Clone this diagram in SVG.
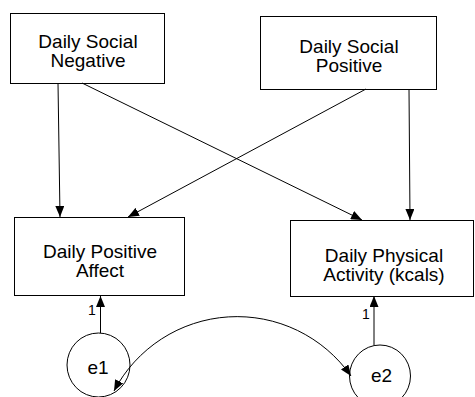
<svg xmlns="http://www.w3.org/2000/svg" width="475" height="397" viewBox="0 0 475 397">
  <style>
    .box { fill: #fff; stroke: #000; stroke-width: 1; }
    .circ { fill: none; stroke: #000; stroke-width: 1; }
    .lbl { font-family: "Liberation Sans", Arial, sans-serif; font-size: 19px; fill: #000; text-anchor: middle; }
    .one { font-family: "Liberation Sans", Arial, sans-serif; font-size: 14px; fill: #000; text-anchor: middle; }
    .edge { fill: none; stroke: #000; stroke-width: 1; marker-end: url(#ah); }
  </style>
  <defs>
    <marker id="ah" markerUnits="userSpaceOnUse" markerWidth="11" markerHeight="9" refX="11" refY="4.5" orient="auto-start-reverse">
      <path d="M0,0 L11,4.5 L0,9 z" fill="#000"/>
    </marker>
  </defs>
  <rect width="475" height="397" fill="#fff"/>

  <g id="dsn">
    <rect class="box" x="10.5" y="13.5" width="154" height="70"/>
    <text class="lbl" x="88" y="48">Daily Social</text>
    <text class="lbl" x="88" y="67">Negative</text>
  </g>
  <g id="dsp">
    <rect class="box" x="260.5" y="16.5" width="176" height="73"/>
    <text class="lbl" x="349" y="53">Daily Social</text>
    <text class="lbl" x="349" y="72">Positive</text>
  </g>
  <g id="dpa">
    <rect class="box" x="14.5" y="217.5" width="170" height="78"/>
    <text class="lbl" x="100" y="258">Daily Positive</text>
    <text class="lbl" x="100" y="277">Affect</text>
  </g>
  <g id="dpact">
    <rect class="box" x="290.5" y="220.5" width="183" height="76"/>
    <text class="lbl" x="384" y="262">Daily Physical</text>
    <text class="lbl" x="384" y="281">Activity (kcals)</text>
  </g>
  <g id="e1">
    <ellipse class="circ" cx="98.5" cy="365" rx="31.5" ry="32"/>
    <text class="lbl" x="98" y="374">e1</text>
  </g>
  <g id="e2">
    <ellipse class="circ" cx="380" cy="376" rx="30.5" ry="31"/>
    <text class="lbl" x="381.5" y="382">e2</text>
  </g>

  <g id="connectors">
    <path class="edge" d="M58,83 L60,217"/>
    <path class="edge" d="M82,83 L362,220"/>
    <path class="edge" d="M366,89 L128,217"/>
    <path class="edge" d="M409,89 L410,220"/>
    <path class="edge" d="M100.5,333 L100.5,296"/>
    <path class="edge" d="M374,345 L374,296"/>
    <path class="edge" d="M114,391 A139,139 0 0 1 351,376" marker-start="url(#ah)"/>
    <text class="one" x="92" y="315">1</text>
    <text class="one" x="366" y="319">1</text>
  </g>
</svg>
